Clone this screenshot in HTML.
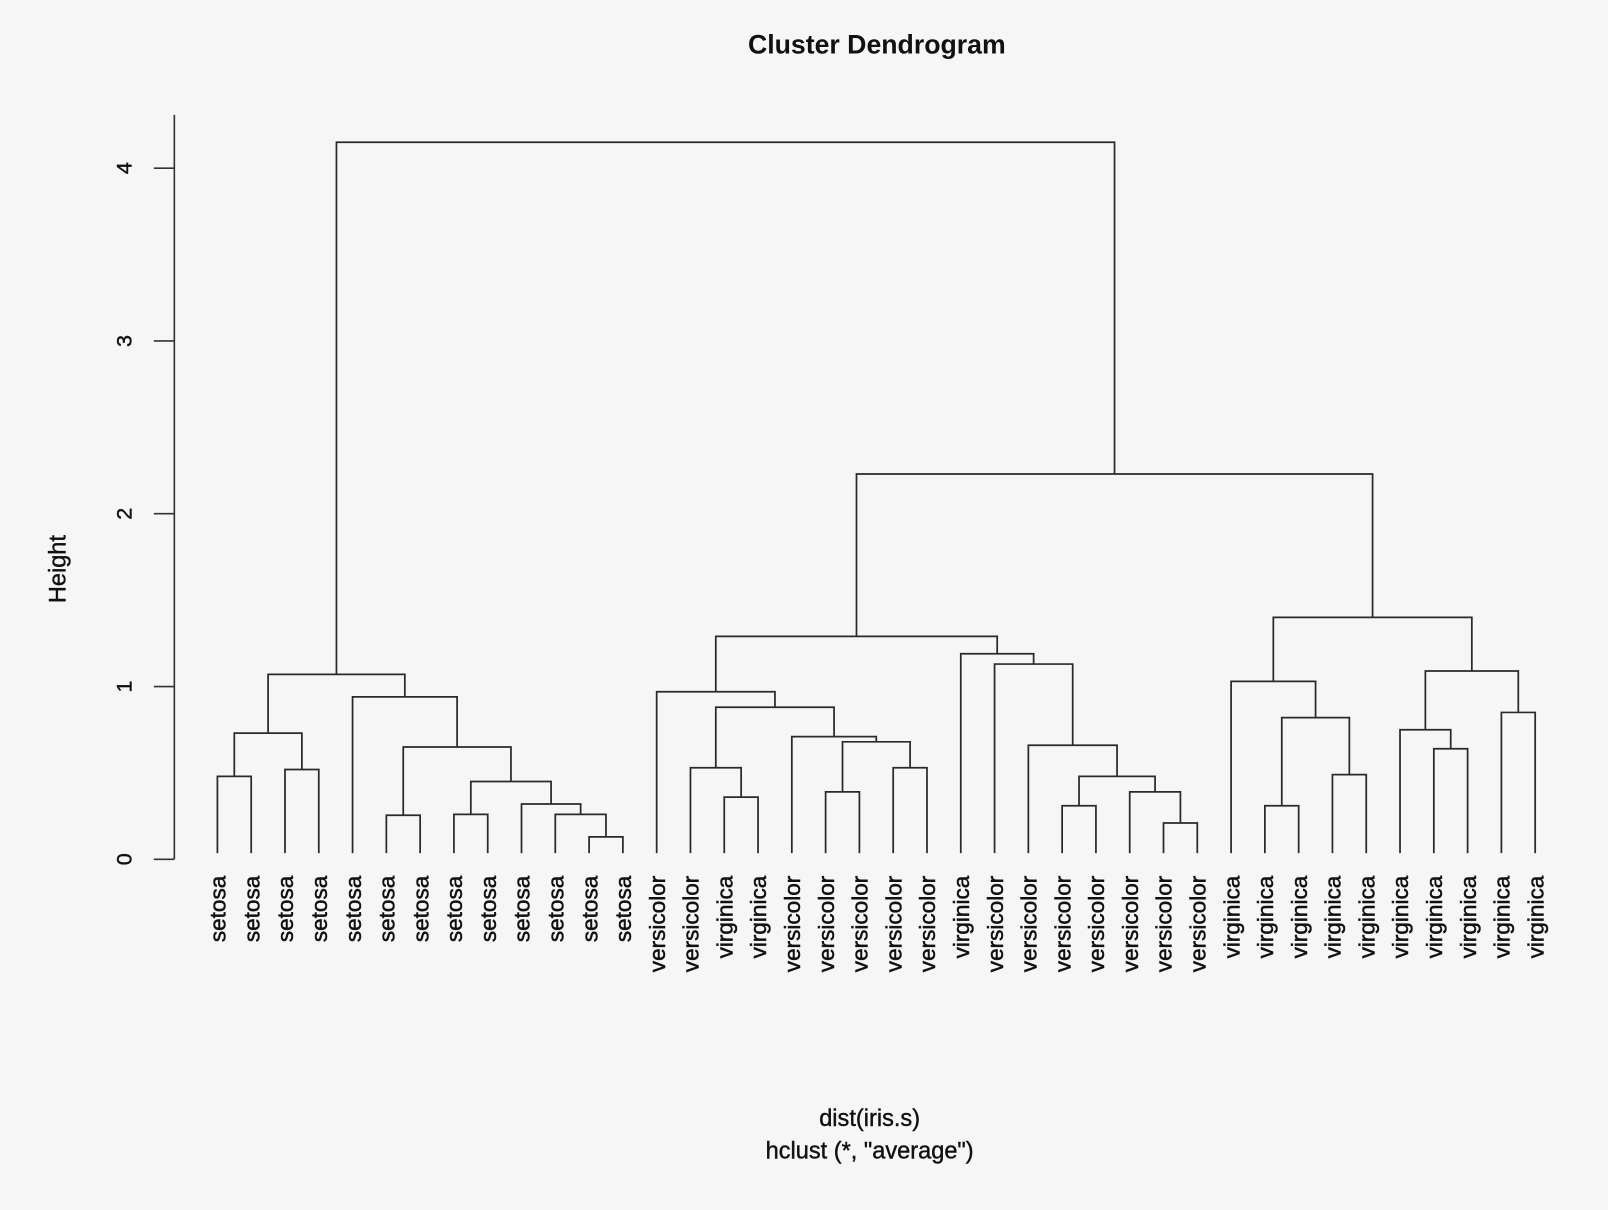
<!DOCTYPE html>
<html><head><meta charset="utf-8"><style>
html,body{margin:0;padding:0;background:#f6f6f6;}
svg{display:block;font-family:"Liberation Sans",sans-serif;}
</style></head><body>
<svg id="chart" width="1608" height="1210" viewBox="0 0 1568 1180" preserveAspectRatio="none">
<rect x="0" y="0" width="1568" height="1180" fill="#f6f6f6"/>
<text x="855" y="52" text-anchor="middle" font-size="26" font-weight="bold" fill="#111">Cluster Dendrogram</text>
<text transform="translate(64,555) rotate(-90)" text-anchor="middle" font-size="23" fill="#111" stroke="#111" stroke-width="0.4">Height</text>
<text x="848" y="1098" text-anchor="middle" font-size="23" fill="#111" stroke="#111" stroke-width="0.4">dist(iris.s)</text>
<text x="848" y="1130" text-anchor="middle" font-size="23" fill="#111" stroke="#111" stroke-width="0.4">hclust (*, "average")</text>
<g id="axis"></g>
<g id="tree"></g>
<g id="labels"></g>
</svg>
<script>
const leafLabels = ["setosa","setosa","setosa","setosa","setosa","setosa","setosa","setosa","setosa","setosa","setosa","setosa","setosa",
"versicolor","versicolor","virginica","virginica","versicolor","versicolor","versicolor","versicolor","versicolor","virginica",
"versicolor","versicolor","versicolor","versicolor","versicolor","versicolor","versicolor",
"virginica","virginica","virginica","virginica","virginica","virginica","virginica","virginica","virginica","virginica"];
const mergeLeft = [-12,-11,-8,-6,-10,3,4,-5,-1,-3,9,11,-16,-15,-19,-21,15,-18,14,-14,-26,-29,-28,21,-25,-24,-23,20,-32,-34,29,-31,-37,-36,-39,34,32,28,12];
const mergeRight = [-13,1,-9,-7,2,5,6,7,-2,-4,10,8,-17,13,-20,-22,16,17,18,19,-27,-30,22,23,24,25,26,27,-33,-35,30,31,-38,33,-40,35,36,37,38];
const mergeHeight = [0.13,0.26,0.26,0.255,0.32,0.45,0.65,0.94,0.48,0.52,0.73,1.07,0.36,0.53,0.39,0.53,0.68,0.71,0.88,0.97,0.31,0.21,0.39,0.48,0.66,1.13,1.19,1.29,0.31,0.49,0.82,1.03,0.64,0.75,0.85,1.09,1.40,2.23,4.15];
const yTicks = [0,1,2,3,4];

const NS="http://www.w3.org/2000/svg";
const y0px=838, unitPx=168.5;
function yScale(v){return y0px - v*unitPx;}
const xFirst=212, xLast=1497;
function xScale(i){return xFirst + i*(xLast-xFirst)/(leafLabels.length-1);}
function mk(tag,attrs,parent){const e=document.createElementNS(NS,tag);for(const k in attrs)e.setAttribute(k,attrs[k]);parent.appendChild(e);return e;}

const axis=document.getElementById('axis');
const ax=mk('line',{x1:170,x2:170,y1:112,y2:yScale(0),stroke:'#333','stroke-width':1.6},axis);


yTicks.forEach(t=>{
  const l=mk('line',{x1:150,x2:170,y1:yScale(t),y2:yScale(t),stroke:'#333','stroke-width':1.6},axis);
  
  
  const tx=mk('text',{transform:`translate(128,${yScale(t)}) rotate(-90)`,'text-anchor':'middle','font-size':21,fill:'#111',stroke:'#111','stroke-width':0.4},axis);
  
  
  tx.textContent=t;
});

const tree=document.getElementById('tree');
const leafHang=yScale(0)-6;
const nodeX=[];
function childPos(c){
  if(c<0) return [xScale(-c-1), leafHang];
  return [nodeX[c-1], yScale(mergeHeight[c-1])];
}
for(let m=0;m<mergeHeight.length;m++){
  const [xa,ya]=childPos(mergeLeft[m]);
  const [xb,yb]=childPos(mergeRight[m]);
  const yh=yScale(mergeHeight[m]);
  nodeX.push((xa+xb)/2);
  const p=mk('path',{d:`M${xa},${ya}V${yh}H${xb}V${yb}`,fill:'none',stroke:'#2a2a2a','stroke-width':1.7},tree);
  
  
}

const labels=document.getElementById('labels');
leafLabels.forEach((s,i)=>{
  const t=mk('text',{transform:`translate(${xScale(i)+8},854) rotate(-90)`,'text-anchor':'end','font-size':22,fill:'#111',stroke:'#111','stroke-width':0.5},labels);
  
  
  t.textContent=s;
});
</script>
</body></html>
